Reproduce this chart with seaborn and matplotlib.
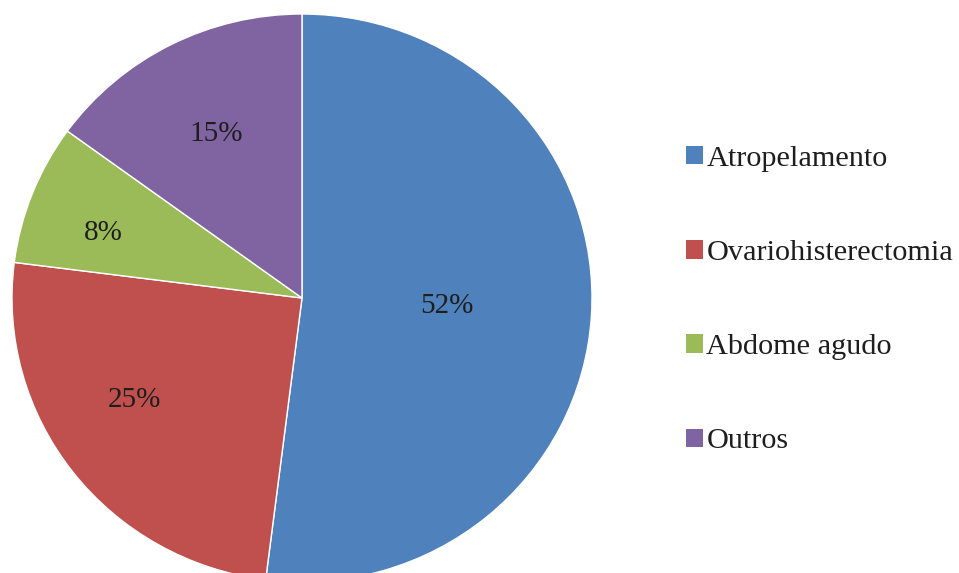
import numpy as np
import matplotlib
matplotlib.use("Agg")
import matplotlib.pyplot as plt
import seaborn as sns
from matplotlib.patches import Patch

categories = ["Atropelamento", "Ovariohisterectomia", "Abdome agudo", "Outros"]
values = [52, 25, 8, 15]
pct_labels = ["52%", "25%", "8%", "15%"]
colors = ["#4F81BD", "#C0504D", "#9BBB59", "#8064A2"]

sns.set_theme(style="white")
plt.rcParams["font.family"] = ["Liberation Serif", "DejaVu Serif"]

W, H = 959, 573
fig = plt.figure(figsize=(W / 100, H / 100), dpi=100)
fig.patch.set_facecolor("white")
# pie centre (302, 298) px from top-left, radii 290 (x) / 284 (y)
cx, cy, rx, ry = 302, 298, 290, 284
ax = fig.add_axes([(cx - rx) / W, (H - cy - ry) / H, 2 * rx / W, 2 * ry / H])

wedges, _ = ax.pie(values, colors=sns.color_palette(colors), startangle=90,
                   counterclock=False, radius=1.0,
                   wedgeprops=dict(edgecolor="white", linewidth=1.0))
ax.set_xlim(-1, 1)
ax.set_ylim(-1, 1)
ax.set_aspect("auto")
ax.axis("off")

# label placement (distance from centre, angle offset in degrees)
label_dist = [0.50, 0.68, 0.723, 0.65]
label_dang = [0.5, -5.9, 3.1, 0.0]
for w, lab, d, da in zip(wedges, pct_labels, label_dist, label_dang):
    ang = np.deg2rad((w.theta1 + w.theta2) / 2 + da)
    ax.text(d * np.cos(ang), d * np.sin(ang), lab, ha="center", va="center",
            fontsize=21, color="#1e1e1e")

handles = [Patch(facecolor=c, edgecolor="none") for c in colors]
leg = fig.legend(handles, categories, loc="upper left",
                 bbox_to_anchor=(686 / W, 1 - 146 / H), frameon=False,
                 fontsize=21.8, handlelength=0.55, handleheight=0.55,
                 handletextpad=0.12, labelspacing=2.25, borderpad=0,
                 borderaxespad=0)
for t in leg.get_texts():
    t.set_color("#1e1e1e")

fig.savefig("out.png", dpi=100, facecolor="white")
